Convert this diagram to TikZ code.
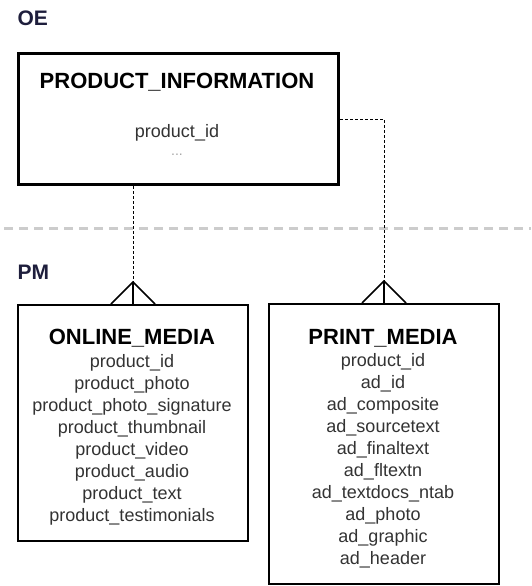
\documentclass[tikz,border=0pt]{standalone}
\usepackage{fontspec}
\setmainfont{Liberation Sans}
\usetikzlibrary{positioning}
\definecolor{schema}{HTML}{1E1E3C}
\definecolor{field}{HTML}{333333}
\tikzset{
  tbl/.style={draw=black,line width=2pt,fill=white,anchor=north west,inner sep=0pt},
  tname/.style={font=\bfseries\fontsize{22}{24}\selectfont},
  cols/.style={align=center,text=field,font=\fontsize{18}{22}\selectfont},
  schemalbl/.style={font=\bfseries\fontsize{21}{24}\selectfont,text=schema,anchor=west},
  fk/.style={densely dashed,line width=1pt},
  crow/.style={line width=1.6pt},
  sep/.style={gray!40,line width=3pt,dash pattern=on 9pt off 6pt}
}
\begin{document}
\begin{tikzpicture}[x=1pt,y=-1pt]
  \useasboundingbox (0,0) rectangle (531,586);
  % schemas
  \node[schemalbl] (oe) at (14,18) {OE};
  \node[schemalbl] (pm) at (14,272) {PM};
  \draw[sep] (4,228) -- (531,228);
  % tables
  \node[tbl,line width=3pt,minimum width=320pt,minimum height=131pt] (pinfo) at (17,52) {};
  \node[tname] (pinfotitle) at (177,82) {PRODUCT\_INFORMATION};
  \node[cols] (pinfoid) at (177,133) {product\_id};
  \node[cols,text=gray!70,font=\fontsize{14}{14}\selectfont] (pinfodots) at (177,155) {...};
  \node[tbl,minimum width=230pt,minimum height=236pt] (om) at (17,304) {};
  \node[tname] (omtitle) at (132,338) {ONLINE\_MEDIA};
  \node[cols] (omcols) at (132,440) {product\_id\\product\_photo\\product\_photo\_signature\\
    product\_thumbnail\\product\_video\\product\_audio\\product\_text\\product\_testimonials};
  \node[tbl,minimum width=230pt,minimum height=280pt] (prm) at (268,303) {};
  \node[tname] (prmtitle) at (383,338) {PRINT\_MEDIA};
  \node[cols] (prmcols) at (383,461) {product\_id\\ad\_id\\ad\_composite\\ad\_sourcetext\\
    ad\_finaltext\\ad\_fltextn\\ad\_textdocs\_ntab\\ad\_photo\\ad\_graphic\\ad\_header};
  % relationships
  \coordinate (omfoot) at ([yshift=22pt]om.north);
  \coordinate (prmfoot) at ([yshift=22pt]prm.north);
  \draw[fk] (pinfo.south -| omfoot) -- (omfoot);
  \draw[fk] (pinfo.east) -| (prmfoot);
  \draw[crow] ([xshift=-22pt]om.north) -- (omfoot) -- ([xshift=22pt]om.north) (omfoot) -- (om.north);
  \draw[crow] ([xshift=-22pt]prm.north) -- (prmfoot) -- ([xshift=22pt]prm.north) (prmfoot) -- (prm.north);
\end{tikzpicture}
\end{document}
